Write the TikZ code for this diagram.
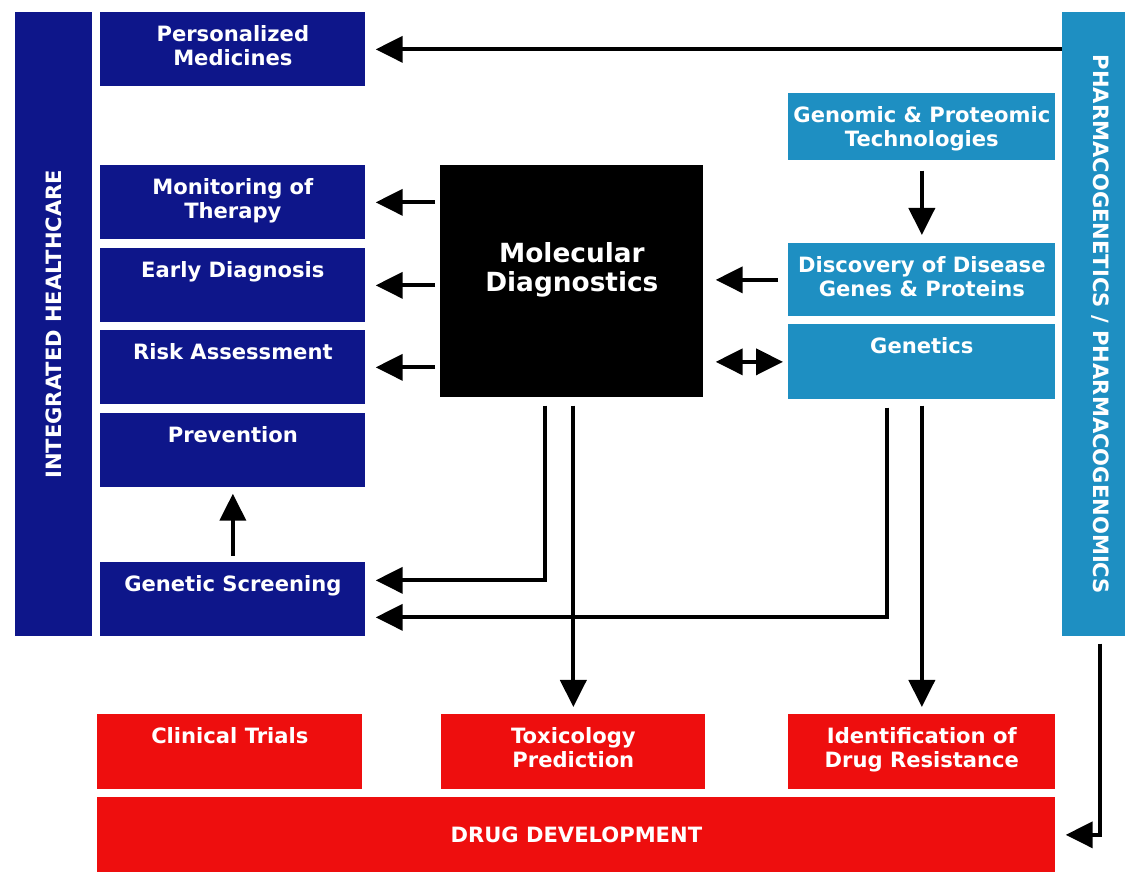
\documentclass[tikz,border=0pt]{standalone}
\usepackage{fontspec}
\setmainfont{DejaVu Sans}
\usetikzlibrary{arrows.meta}

\definecolor{navyblk}{RGB}{14,22,138}
\definecolor{skyblk}{RGB}{30,143,194}
\definecolor{redblk}{RGB}{238,14,14}

\tikzset{
  blk/.style={anchor=north west, inner sep=0pt, minimum width=5.3cm, minimum height=1.48cm},
  navy/.style={blk, fill=navyblk},
  sky/.style={blk, fill=skyblk, minimum width=5.34cm},
  redb/.style={blk, fill=redblk, minimum height=1.5cm},
  txt/.style={anchor=north, yshift=-0.26cm, inner sep=0pt, align=center, text=white,
    font=\bfseries\fontsize{12}{14}\selectfont},
  mdtxt/.style={anchor=center, yshift=0.23cm, inner sep=0pt, align=center, text=white,
    font=\bfseries\fontsize{15}{17}\selectfont},
  vtxt/.style={inner sep=0pt, text=white, font=\bfseries\fontsize{12}{14}\selectfont},
  bigtri/.tip={Triangle[length=0.54cm,width=0.52cm]},
  arr/.style={line width=2.2pt, -bigtri},
}

\begin{document}
\begin{tikzpicture}[x=0.2mm, y=-0.2mm]
  \useasboundingbox (0,0) rectangle (1125,872);

  % side bars
  \node[navy, minimum width=1.54cm, minimum height=12.48cm] (ih) at (15,12) {};
  \node[vtxt, rotate=90] at (ih.center) {INTEGRATED HEALTHCARE};
  \node[sky, minimum width=1.26cm, minimum height=12.48cm] (pgx) at (1062,12) {};
  \node[vtxt, rotate=-90] at ([xshift=0.12cm]pgx.center) {PHARMACOGENETICS / PHARMACOGENOMICS};

  % healthcare column
  \node[navy, label={[txt]north:{Personalized\\Medicines}}] (pers) at (100,12) {};
  \node[navy, label={[txt]north:{Monitoring of\\Therapy}}] (mon) at (100,165) {};
  \node[navy, label={[txt]north:Early Diagnosis}] (early) at (100,248) {};
  \node[navy, label={[txt]north:Risk Assessment}] (risk) at (100,330) {};
  \node[navy, label={[txt]north:Prevention}] (prev) at (100,413) {};
  \node[navy, label={[txt]north:Genetic Screening}] (screen) at (100,562) {};

  % centre
  \node[blk, fill=black, minimum width=5.26cm, minimum height=4.64cm,
    label={[mdtxt]center:{Molecular\\Diagnostics}}] (md) at (440,165) {};

  % genomics column
  \node[sky, minimum height=1.34cm, label={[txt]north:{Genomic \& Proteomic\\Technologies}}] (gpt) at (788,93) {};
  \node[sky, minimum height=1.46cm, label={[txt]north:{Discovery of Disease\\Genes \& Proteins}}] (disc) at (788,243) {};
  \node[sky, minimum height=1.5cm, label={[txt]north:Genetics}] (gen) at (788,324) {};

  % drug development
  \node[redb, label={[txt]north:Clinical Trials}] (clin) at (97,714) {};
  \node[redb, minimum width=5.28cm, label={[txt]north:{Toxicology\\Prediction}}] (tox) at (441,714) {};
  \node[redb, minimum width=5.34cm, label={[txt]north:{Identification of\\Drug Resistance}}] (ident) at (788,714) {};
  \node[redb, minimum width=19.16cm, text=white, font=\bfseries\fontsize{12}{14}\selectfont] (dd) at (97,797) {DRUG DEVELOPMENT};

  % arrows
  \draw[arr, shorten >=0.2cm] (pgx.west |- pers.east) -- (pers.east);
  \foreach \n in {mon,early,risk}
    \draw[arr, shorten <=0.1cm, shorten >=0.2cm] (md.west |- \n.east) -- (\n.east);
  \draw[arr, shorten <=0.2cm, shorten >=0.24cm] (disc.west) -- (md.east |- disc.west);
  \draw[line width=2.2pt, bigtri-bigtri, shorten <=0.24cm, shorten >=0.1cm] (md.east |- gen.west) -- (gen.west);
  \draw[arr, shorten <=0.2cm, shorten >=0.16cm] (gpt.south) -- (disc.north);
  \draw[arr, shorten <=0.12cm, shorten >=0.12cm] (screen.north) -- (prev.south);
  \draw[arr, shorten <=0.16cm, shorten >=0.2cm] ([xshift=-0.53cm]md.south) |- ([yshift=0.38cm]screen.east);
  \draw[arr, shorten <=0.16cm, shorten >=0.14cm] (tox.north |- md.south) -- (tox.north);
  \draw[arr, shorten <=0.16cm, shorten >=0.2cm] ([xshift=-0.69cm]gen.south) |- ([yshift=-0.36cm]screen.east);
  \draw[arr, shorten <=0.12cm, shorten >=0.14cm] (ident.north |- gen.south) -- (ident.north);
  \draw[arr, shorten <=0.14cm, shorten >=0.2cm] ([xshift=0.13cm]pgx.south) |- (dd.east);
\end{tikzpicture}
\end{document}
